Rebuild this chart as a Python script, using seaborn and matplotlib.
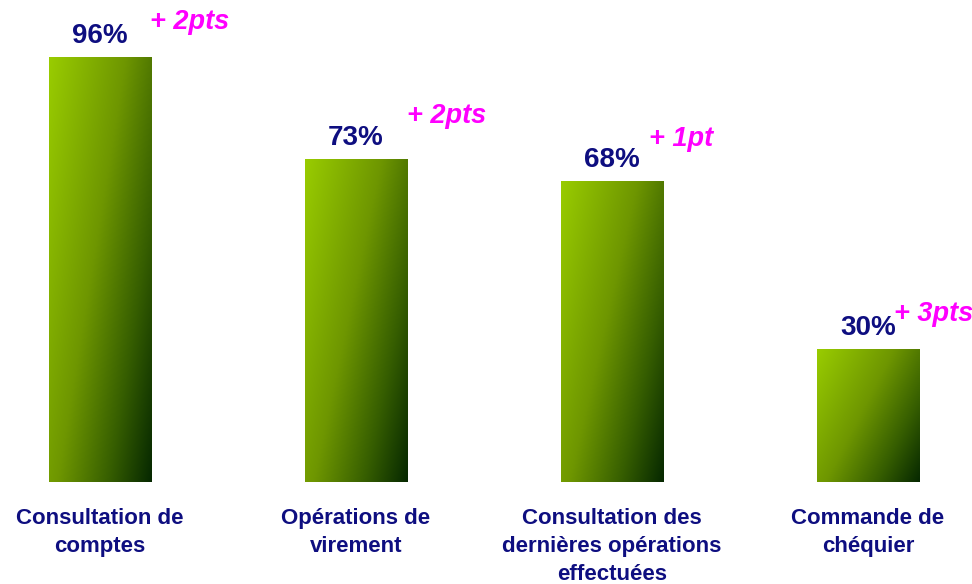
import numpy as np
import pandas as pd
import matplotlib
matplotlib.use("Agg")
import matplotlib.pyplot as plt
import seaborn as sns
from matplotlib.colors import LinearSegmentedColormap

categories = ["Consultation de\ncomptes", "Opérations de\nvirement",
              "Consultation des\ndernières opérations\neffectuées", "Commande de\nchéquier"]
values = [96, 73, 68, 30]
value_labels = ["96%", "73%", "68%", "30%"]
delta_labels = ["+ 2pts", "+ 2pts", "+ 1pt", "+ 3pts"]

# style: offsets (points) of delta labels relative to bar top-center
delta_offsets = [(36, 25), (37, 31), (27, 30), (19, 25)]

sns.set_theme(style="white")
plt.rcParams['font.family'] = ['Liberation Sans', 'DejaVu Sans']

fig = plt.figure(figsize=(9.72, 5.84), dpi=100)
ax = fig.add_axes([0, 102/584, 1, 482/584])

df = pd.DataFrame({"cat": categories, "val": values})
sns.barplot(data=df, x="cat", y="val", ax=ax, width=0.40, color="#99CC00",
            saturation=1, edgecolor="none")

cmap = LinearSegmentedColormap.from_list(
    "g", [(0.0, "#99CC00"), (0.45, "#6E9600"), (0.75, "#365E00"), (1.0, "#062800")])
n = 200
u = np.linspace(0, 1, n)
U, V = np.meshgrid(u, u)  # V: 0 at bottom
grad = 0.6 * U + 0.4 * (1 - V)

for p in ax.patches:
    x0, y0 = p.get_x(), p.get_y()
    w, h = p.get_width(), p.get_height()
    p.set_facecolor("none")
    im = ax.imshow(grad, cmap=cmap, extent=[x0, x0 + w, y0, y0 + h],
                   origin="lower", aspect="auto", zorder=2, vmin=0, vmax=1,
                   interpolation="bilinear")
    im.set_clip_path(p)

ax.set_xlim(-0.39, 3.406)
ax.set_ylim(0, 482/4.427)

navy = "#0E0E80"
for i, (v, vl, dl) in enumerate(zip(values, value_labels, delta_labels)):
    ax.annotate(vl, xy=(i, v), xytext=(0, 15), textcoords="offset points",
                ha="center", va="center", fontsize=20, fontweight="bold", color=navy)
    dx, dy = delta_offsets[i]
    ax.annotate(dl, xy=(i, v), xytext=(dx, dy), textcoords="offset points",
                ha="left", va="center", fontsize=19.5, fontweight="bold",
                fontstyle="italic", color="#FF00FF")

ax.set_xlabel("")
ax.set_ylabel("")
ax.set_yticks([])
ax.tick_params(axis="x", length=0, pad=19)
for t in ax.get_xticklabels():
    t.set_fontsize(16)
    t.set_fontweight("bold")
    t.set_color(navy)
    t.set_verticalalignment("top")
    t.set_horizontalalignment("center")
    t.set_linespacing(1.44)
for s in ax.spines.values():
    s.set_visible(False)

fig.savefig("out.png", dpi=100, facecolor="white")
